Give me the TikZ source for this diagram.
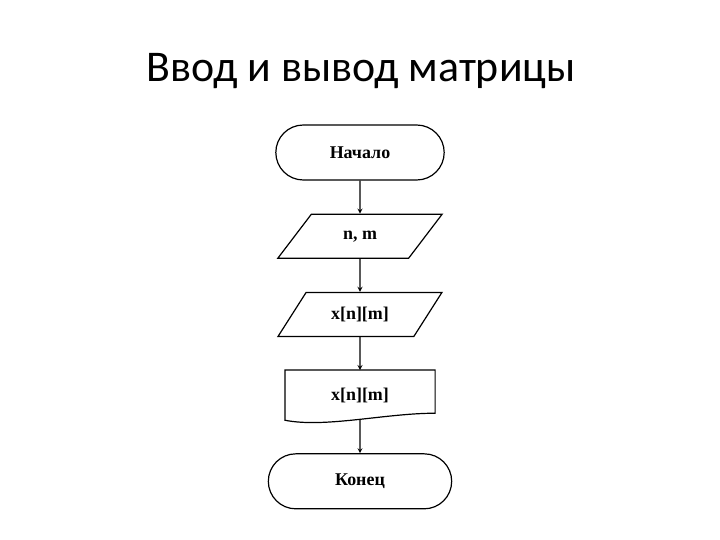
\documentclass[tikz,border=0pt]{standalone}
\usepackage{fontspec}
\setmainfont{Liberation Serif}
\newfontfamily\titlefont{Carlito}
\usetikzlibrary{positioning,shapes.geometric,shapes.misc}

\begin{document}
\begin{tikzpicture}[x=1bp, y=1bp, ->, >=stealth, line width=1.2bp, node distance=33bp,
  every node/.style={font=\bfseries\fontsize{18}{21}\selectfont},
  terminal/.style={rounded rectangle, draw, minimum height=55bp},
  io/.style={trapezium, trapezium left angle=52, trapezium right angle=128, trapezium stretches=true, draw, minimum width=165bp, minimum height=44bp},
  docbox/.style={rectangle, minimum width=149bp, minimum height=49bp}]
  \useasboundingbox (0,0) rectangle (720,-540);
  \node[font=\titlefont\fontsize{44}{52}\selectfont, anchor=base] (title) at (361,-82) {Ввод и вывод матрицы};

  \node[terminal, minimum width=175bp] (start) at (360,-152.5) {Начало};
  \node[io] (inp) [below=of start] {n, m};
  \node[io] (read) [below=of inp] {x[n][m]};
  \node[docbox] (out) [below=of read] {x[n][m]};
  \node[terminal, minimum width=190bp] (stop) [below=of out] {Конец};

  % document symbol with wavy bottom
  \draw[-] (out.north west) -- (out.north east) -- ([yshift=7bp]out.south east)
    .. controls +(-50,0) and +(40,-8) .. (out.south west) -- cycle;

  \draw (start) -- (inp);
  \draw (inp) -- (read);
  \draw (read) -- (out);
  \draw (out) -- (stop);
\end{tikzpicture}
\end{document}
